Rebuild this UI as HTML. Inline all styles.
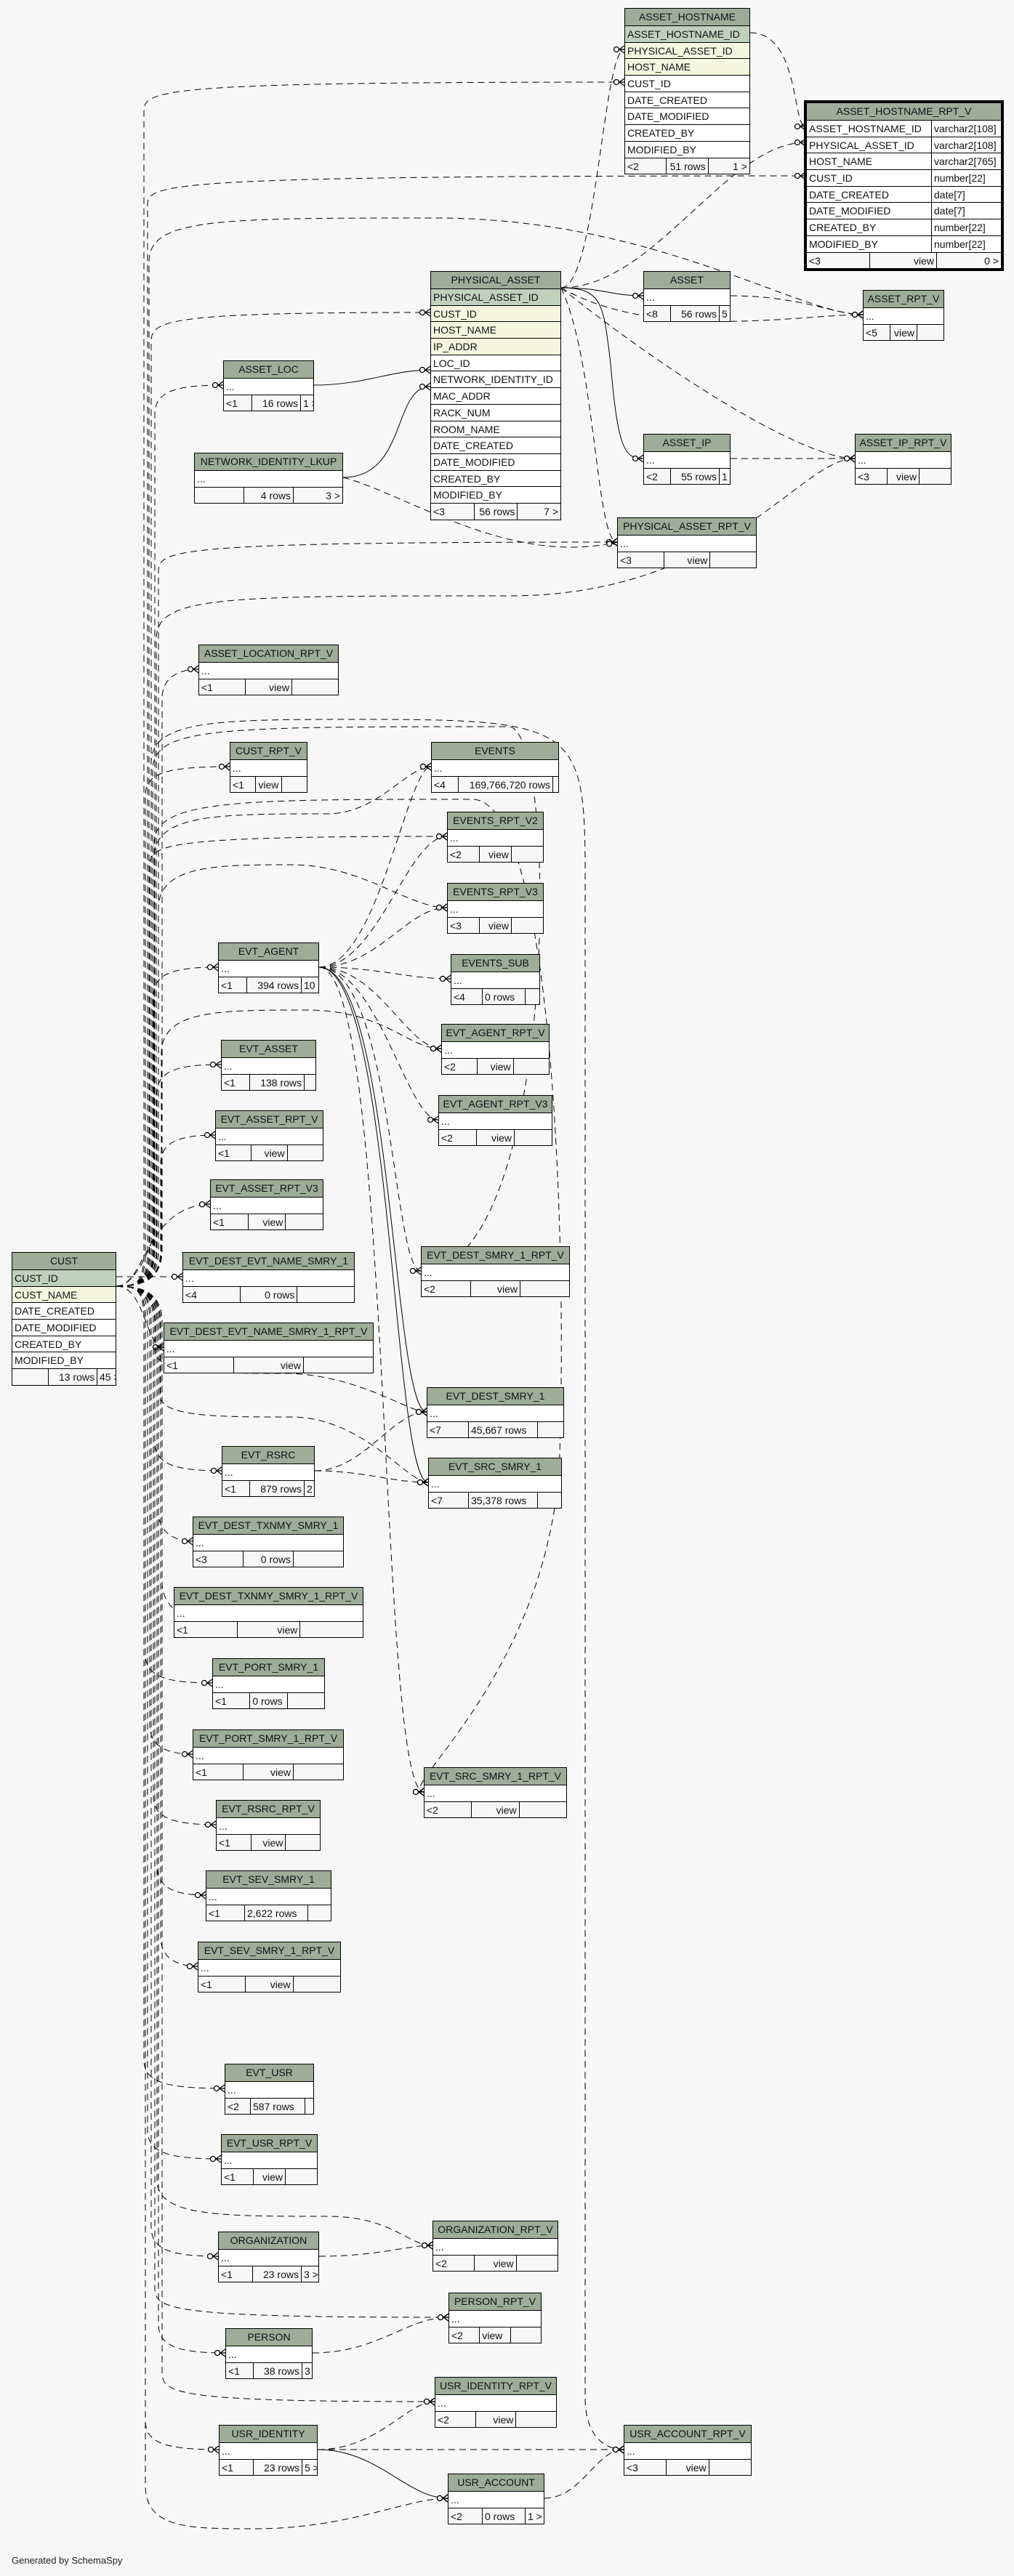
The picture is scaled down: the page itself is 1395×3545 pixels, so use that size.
<!DOCTYPE html>
<html><head><meta charset="utf-8"><style>
html,body{margin:0;padding:0;background:#f7f7f7}
body{width:1395px;height:3545px;position:relative;overflow:hidden;font-family:"Liberation Sans",sans-serif}
svg{position:absolute;left:0;top:0}
.t{position:absolute;border:1px solid #000;background:#fff;font-size:14px;box-sizing:border-box;color:#111}
.t>div{height:22.7px;line-height:22px;border-top:1px solid #000;padding:0 3px;white-space:nowrap;overflow:hidden;box-sizing:border-box}
.t>.h{background:#9eac98;text-align:center;border-top:none;height:23px}
.t>.p{background:#bfd1bb}.t>.y{background:#f4f6e0}
.t>.f{display:flex;padding:0;background:#f7f7f7}
.f span{flex:1;border-left:1px solid #000;padding:0 3px;text-align:right;overflow:hidden}
.f span:first-child{border-left:none;text-align:left}
.t>.c{display:flex;padding:0}
.c span{padding:0 3px;overflow:hidden}
.c span:first-child{width:165px;border-right:1px solid #000}
.k{border:4px solid #000!important}
.gen{position:absolute;left:16px;top:3516px;font-size:13px;color:#222}
</style></head><body>
<svg id="sv" width="1395" height="3545" fill="none" stroke="#000" stroke-width="1">
<defs>
<marker id="m" markerUnits="userSpaceOnUse" orient="auto" refX="0" refY="0" viewBox="-16 -7 17 14" markerWidth="17" markerHeight="14" overflow="visible">
<g stroke="#000" fill="#fff" stroke-dasharray="none" stroke-width="1.3"><circle cx="-11" cy="0" r="3.5"/><path d="M-7 0H0M-7 0L0 -5M-7 0L0 5" fill="none"/></g>
</marker>
</defs>
<g id="fan" stroke-dasharray="9,6" marker-end="url(#m)">
<path d="M160 1757 L251 1757"/>
<path d="M160 1770 C200 1770 200 1854 225 1854"/>
<path d="M160 1770 C200 1770 200 1660 289 1657"/>
<path d="M160 1770 C190 1770 205 1765 205 1720 L205 360 C205 300 300 300 600 300 C900 300 1100 433 1187 433"/>
<path d="M160 1770 C190 1770 215 1765 215 1720 L215 880 C215 820 300 820 700 820 C1000 820 1100 631 1176 631"/>
<path d="M160 1770 C190 1770 212 1765 212 1720 L212 1180 C212 1120 300 1120 450 1120 C520 1120 560 1055 593 1055"/>
<path d="M160 1770 C190 1770 218 1765 218 1720 L218 1250 C218 1190 300 1190 400 1190 C500 1190 560 1249 615 1249"/>
<path d="M160 1770 C190 1770 222 1765 222 1720 L222 1450 C222 1390 300 1390 420 1390 C530 1390 560 1443 607 1443"/>
<path d="M160 1770 C190 1770 210 1765 210 1720 L210 1060 C210 1000 300 1000 700 1000 C770 1000 770 1749 579 1749"/>
<path d="M160 1770 C190 1770 208 1765 208 1720 L208 1050 C208 990 300 990 500 990 C790 990 805 1000 805 1200 L805 3300 C805 3350 830 3371 858 3371"/>
<path d="M160 1770 C190 1770 214 1775 214 1820 L214 1860 C214 1890 300 1890 400 1890 C500 1895 560 1943 587 1943"/>
<path d="M160 1770 C190 1770 220 1775 220 1820 L220 1920 C220 1950 300 1950 400 1950 C500 1950 560 2040 589 2040"/>
<path d="M160 1770 C190 1770 212 1700 212 1700 L212 1160 C212 1100 330 1100 650 1100 C760 1100 780 1700 770 2000 C760 2300 540 2466 583 2466"/>
<path d="M160 1770 C190 1770 216 1775 216 1820 L216 3000 C216 3050 300 3050 450 3050 C540 3050 560 3090 595 3090"/>
<path d="M160 1770 C190 1770 200 1775 200 1820 L200 3420 C200 3480 260 3480 350 3480 C480 3480 560 3438 616 3438"/>
</g>
<g stroke-dasharray="9,6" marker-end="url(#m)">
<path d="M1032 45 C1100 45 1090 174 1108 174"/>
<path d="M772 396 C820 396 830 68 859 68"/>
<path d="M772 396 C900 396 1000 196 1108 196"/>
<path d="M772 396 C900 470 1100 433 1187 433"/>
<path d="M772 396 C900 500 1100 631 1176 631"/>
<path d="M772 396 C820 500 820 746 849 746"/>
<path d="M1005 407 C1100 407 1150 433 1187 433"/>
<path d="M1005 631 L1176 631"/>
<path d="M472 657 C560 680 700 780 849 746"/>
<path d="M439 1331 C520 1331 560 1055 593 1055"/>
<path d="M439 1331 C520 1331 560 1151 615 1151"/>
<path d="M439 1331 C520 1331 560 1249 615 1249"/>
<path d="M439 1331 C520 1331 560 1347 620 1347"/>
<path d="M439 1331 C520 1331 560 1443 607 1443"/>
<path d="M439 1331 C520 1331 560 1541 603 1541"/>
<path d="M439 1331 C540 1331 540 1749 579 1749"/>
<path d="M439 1331 C540 1331 520 2466 583 2466"/>
<path d="M433 2024 C500 2024 540 1943 587 1943"/>
<path d="M433 2024 C500 2024 540 2040 589 2040"/>
<path d="M439 3105 C520 3105 560 3090 595 3090"/>
<path d="M430 3238 C520 3238 560 3189 617 3189"/>
<path d="M437 3371 C520 3371 560 3305 598 3305"/>
<path d="M437 3371 L858 3371"/>
<path d="M749 3438 C800 3438 820 3371 858 3371"/>
</g>
<g marker-end="url(#m)">
<path d="M772 396 C830 396 840 407 885 407"/>
<path d="M772 396 C830 396 830 420 840 500 C850 620 860 631 885 631"/>
<path d="M432 530 C500 530 540 509 592 509"/>
<path d="M472 657 C560 657 540 532 592 532"/>
<path d="M439 1331 C540 1331 540 1943 587 1943"/>
<path d="M439 1331 C540 1331 540 2040 589 2040"/>
<path d="M437 3371 C520 3371 560 3438 616 3438"/>
</g>
</svg>
<script>
(function(){
var g=document.getElementById('fan');
var up=[[113,859],[242,1108],[430,592],[530,307],[746,849],[921,273],[1055,316],[1151,615],[1331,300],[1465,304],[1562,296]];
var dn=[[2024,305],[2121,265],[2218,239],[2316,292],[2414,265],[2511,297],[2608,283],[2706,272],[2874,309],[2971,304],[3105,300],[3189,617],[3238,310],[3305,598],[3371,301]];
var bxs=[198,203,208,213,218,223,200,206,211,216,221];
function add(d){var p=document.createElementNS('http://www.w3.org/2000/svg','path');p.setAttribute('d',d);g.appendChild(p);}
up.forEach(function(a,i){var ty=a[0],x=a[1],bx=bxs[i%bxs.length];
add('M160 1770 C190 1770 '+bx+' 1765 '+bx+' 1720 L'+bx+' '+(ty+40)+' C'+bx+' '+(ty+10)+' '+(bx+25)+' '+ty+' '+x+' '+ty);});
dn.forEach(function(a,i){var ty=a[0],x=a[1],bx=bxs[(i+3)%bxs.length];
add('M160 1770 C190 1770 '+bx+' 1775 '+bx+' 1820 L'+bx+' '+(ty-40)+' C'+bx+' '+(ty-10)+' '+(bx+25)+' '+ty+' '+x+' '+ty);});
})();
</script>

<div class="t" style="left:859px;top:11px;width:173px"><div class="h">ASSET_HOSTNAME</div><div class="p">ASSET_HOSTNAME_ID</div><div class="y">PHYSICAL_ASSET_ID</div><div class="y">HOST_NAME</div><div>CUST_ID</div><div>DATE_CREATED</div><div>DATE_MODIFIED</div><div>CREATED_BY</div><div>MODIFIED_BY</div><div class="f"><span>&lt;2</span><span>51 rows</span><span>1 &gt;</span></div></div>

<div class="t k" style="left:1106px;top:138px;width:275px"><div class="h">ASSET_HOSTNAME_RPT_V</div><div class="c"><span>ASSET_HOSTNAME_ID</span><span>varchar2[108]</span></div><div class="c"><span>PHYSICAL_ASSET_ID</span><span>varchar2[108]</span></div><div class="c"><span>HOST_NAME</span><span>varchar2[765]</span></div><div class="c"><span>CUST_ID</span><span>number[22]</span></div><div class="c"><span>DATE_CREATED</span><span>date[7]</span></div><div class="c"><span>DATE_MODIFIED</span><span>date[7]</span></div><div class="c"><span>CREATED_BY</span><span>number[22]</span></div><div class="c"><span>MODIFIED_BY</span><span>number[22]</span></div><div class="f"><span style="flex:0 0 80px">&lt;3</span><span style="flex:0 0 85px">view</span><span>0 &gt;</span></div></div>

<div class="t" style="left:592px;top:373px;width:180px"><div class="h">PHYSICAL_ASSET</div><div class="p">PHYSICAL_ASSET_ID</div><div class="y">CUST_ID</div><div class="y">HOST_NAME</div><div class="y">IP_ADDR</div><div>LOC_ID</div><div>NETWORK_IDENTITY_ID</div><div>MAC_ADDR</div><div>RACK_NUM</div><div>ROOM_NAME</div><div>DATE_CREATED</div><div>DATE_MODIFIED</div><div>CREATED_BY</div><div>MODIFIED_BY</div><div class="f"><span>&lt;3</span><span>56 rows</span><span>7 &gt;</span></div></div>

<div class="t" style="left:885px;top:373px;width:120px"><div class="h">ASSET</div><div>...</div><div class="f"><span style="flex:0 0 30px">&lt;8</span><span style="flex:0 0 60px">56 rows</span><span>5 &gt;</span></div></div>
<div class="t" style="left:1187px;top:399px;width:112px"><div class="h">ASSET_RPT_V</div><div>...</div><div class="f"><span>&lt;5</span><span>view</span><span></span></div></div>
<div class="t" style="left:307px;top:496px;width:125px"><div class="h">ASSET_LOC</div><div>...</div><div class="f"><span style="flex:0 0 32px">&lt;1</span><span style="flex:0 0 60px">16 rows</span><span>1 &gt;</span></div></div>
<div class="t" style="left:267px;top:623px;width:205px"><div class="h">NETWORK_IDENTITY_LKUP</div><div>...</div><div class="f"><span></span><span>4 rows</span><span>3 &gt;</span></div></div>
<div class="t" style="left:885px;top:597px;width:120px"><div class="h">ASSET_IP</div><div>...</div><div class="f"><span style="flex:0 0 30px">&lt;2</span><span style="flex:0 0 60px">55 rows</span><span>1 &gt;</span></div></div>
<div class="t" style="left:1176px;top:597px;width:133px"><div class="h">ASSET_IP_RPT_V</div><div>...</div><div class="f"><span>&lt;3</span><span>view</span><span></span></div></div>
<div class="t" style="left:849px;top:712px;width:192px"><div class="h">PHYSICAL_ASSET_RPT_V</div><div>...</div><div class="f"><span>&lt;3</span><span>view</span><span></span></div></div>
<div class="t" style="left:273px;top:887px;width:193px"><div class="h">ASSET_LOCATION_RPT_V</div><div>...</div><div class="f"><span>&lt;1</span><span>view</span><span></span></div></div>
<div class="t" style="left:316px;top:1021px;width:107px"><div class="h">CUST_RPT_V</div><div>...</div><div class="f"><span>&lt;1</span><span style="text-align:left">view</span><span></span></div></div>
<div class="t" style="left:593px;top:1021px;width:176px"><div class="h">EVENTS</div><div>...</div><div class="f"><span style="flex:0 0 30px">&lt;4</span><span style="flex:0 0 123px">169,766,720 rows</span><span></span></div></div>
<div class="t" style="left:615px;top:1117px;width:133px"><div class="h">EVENTS_RPT_V2</div><div>...</div><div class="f"><span>&lt;2</span><span>view</span><span></span></div></div>
<div class="t" style="left:615px;top:1215px;width:133px"><div class="h">EVENTS_RPT_V3</div><div>...</div><div class="f"><span>&lt;3</span><span>view</span><span></span></div></div>
<div class="t" style="left:300px;top:1297px;width:139px"><div class="h">EVT_AGENT</div><div>...</div><div class="f"><span style="flex:0 0 32px">&lt;1</span><span style="flex:0 0 68px">394 rows</span><span>10 &gt;</span></div></div>
<div class="t" style="left:620px;top:1313px;width:123px"><div class="h">EVENTS_SUB</div><div>...</div><div class="f"><span style="flex:0 0 36px">&lt;4</span><span style="flex:0 0 52px;text-align:left">0 rows</span><span></span></div></div>
<div class="t" style="left:607px;top:1409px;width:149px"><div class="h">EVT_AGENT_RPT_V</div><div>...</div><div class="f"><span>&lt;2</span><span>view</span><span></span></div></div>
<div class="t" style="left:304px;top:1431px;width:131px"><div class="h">EVT_ASSET</div><div>...</div><div class="f"><span style="flex:0 0 32px">&lt;1</span><span style="flex:0 0 68px">138 rows</span><span></span></div></div>
<div class="t" style="left:603px;top:1507px;width:157px"><div class="h">EVT_AGENT_RPT_V3</div><div>...</div><div class="f"><span>&lt;2</span><span>view</span><span></span></div></div>
<div class="t" style="left:296px;top:1528px;width:149px"><div class="h">EVT_ASSET_RPT_V</div><div>...</div><div class="f"><span>&lt;1</span><span>view</span><span></span></div></div>
<div class="t" style="left:289px;top:1623px;width:156px"><div class="h">EVT_ASSET_RPT_V3</div><div>...</div><div class="f"><span>&lt;1</span><span>view</span><span></span></div></div>
<div class="t" style="left:579px;top:1715px;width:205px"><div class="h">EVT_DEST_SMRY_1_RPT_V</div><div>...</div><div class="f"><span>&lt;2</span><span>view</span><span></span></div></div>
<div class="t" style="left:251px;top:1723px;width:237px"><div class="h">EVT_DEST_EVT_NAME_SMRY_1</div><div>...</div><div class="f"><span>&lt;4</span><span>0 rows</span><span></span></div></div>
<div class="t" style="left:16px;top:1723px;width:144px"><div class="h">CUST</div><div class="p">CUST_ID</div><div class="y">CUST_NAME</div><div>DATE_CREATED</div><div>DATE_MODIFIED</div><div>CREATED_BY</div><div>MODIFIED_BY</div><div class="f"><span style="flex:0 0 43px"></span><span style="flex:0 0 60px">13 rows</span><span>45 &gt;</span></div></div>
<div class="t" style="left:225px;top:1820px;width:289px"><div class="h">EVT_DEST_EVT_NAME_SMRY_1_RPT_V</div><div>...</div><div class="f"><span>&lt;1</span><span>view</span><span></span></div></div>
<div class="t" style="left:587px;top:1909px;width:189px"><div class="h">EVT_DEST_SMRY_1</div><div>...</div><div class="f"><span style="flex:0 0 50px">&lt;7</span><span style="flex:0 0 88px;text-align:left">45,667 rows</span><span></span></div></div>
<div class="t" style="left:305px;top:1990px;width:128px"><div class="h">EVT_RSRC</div><div>...</div><div class="f"><span style="flex:0 0 31px">&lt;1</span><span style="flex:0 0 68px">879 rows</span><span>2 &gt;</span></div></div>
<div class="t" style="left:589px;top:2006px;width:184px"><div class="h">EVT_SRC_SMRY_1</div><div>...</div><div class="f"><span style="flex:0 0 48px">&lt;7</span><span style="flex:0 0 88px;text-align:left">35,378 rows</span><span></span></div></div>
<div class="t" style="left:265px;top:2087px;width:208px"><div class="h">EVT_DEST_TXNMY_SMRY_1</div><div>...</div><div class="f"><span>&lt;3</span><span>0 rows</span><span></span></div></div>
<div class="t" style="left:239px;top:2184px;width:261px"><div class="h">EVT_DEST_TXNMY_SMRY_1_RPT_V</div><div>...</div><div class="f"><span>&lt;1</span><span>view</span><span></span></div></div>
<div class="t" style="left:292px;top:2282px;width:155px"><div class="h">EVT_PORT_SMRY_1</div><div>...</div><div class="f"><span>&lt;1</span><span style="text-align:left">0 rows</span><span></span></div></div>
<div class="t" style="left:265px;top:2380px;width:208px"><div class="h">EVT_PORT_SMRY_1_RPT_V</div><div>...</div><div class="f"><span>&lt;1</span><span>view</span><span></span></div></div>
<div class="t" style="left:583px;top:2432px;width:197px"><div class="h">EVT_SRC_SMRY_1_RPT_V</div><div>...</div><div class="f"><span>&lt;2</span><span>view</span><span></span></div></div>
<div class="t" style="left:297px;top:2477px;width:144px"><div class="h">EVT_RSRC_RPT_V</div><div>...</div><div class="f"><span>&lt;1</span><span>view</span><span></span></div></div>
<div class="t" style="left:283px;top:2574px;width:173px"><div class="h">EVT_SEV_SMRY_1</div><div>...</div><div class="f"><span style="flex:0 0 46px">&lt;1</span><span style="flex:0 0 80px;text-align:left">2,622 rows</span><span></span></div></div>
<div class="t" style="left:272px;top:2672px;width:197px"><div class="h">EVT_SEV_SMRY_1_RPT_V</div><div>...</div><div class="f"><span>&lt;1</span><span>view</span><span></span></div></div>
<div class="t" style="left:309px;top:2840px;width:123px"><div class="h">EVT_USR</div><div>...</div><div class="f"><span style="flex:0 0 28px">&lt;2</span><span style="flex:0 0 68px;text-align:left">587 rows</span><span></span></div></div>
<div class="t" style="left:304px;top:2937px;width:133px"><div class="h">EVT_USR_RPT_V</div><div>...</div><div class="f"><span>&lt;1</span><span>view</span><span></span></div></div>
<div class="t" style="left:595px;top:3056px;width:173px"><div class="h">ORGANIZATION_RPT_V</div><div>...</div><div class="f"><span>&lt;2</span><span>view</span><span></span></div></div>
<div class="t" style="left:300px;top:3071px;width:139px"><div class="h">ORGANIZATION</div><div>...</div><div class="f"><span style="flex:0 0 40px">&lt;1</span><span style="flex:0 0 60px">23 rows</span><span>3 &gt;</span></div></div>
<div class="t" style="left:617px;top:3155px;width:128px"><div class="h">PERSON_RPT_V</div><div>...</div><div class="f"><span>&lt;2</span><span style="text-align:left">view</span><span></span></div></div>
<div class="t" style="left:310px;top:3204px;width:120px"><div class="h">PERSON</div><div>...</div><div class="f"><span style="flex:0 0 31px">&lt;1</span><span style="flex:0 0 60px">38 rows</span><span style="text-align:left">3 &gt;</span></div></div>
<div class="t" style="left:598px;top:3271px;width:168px"><div class="h">USR_IDENTITY_RPT_V</div><div>...</div><div class="f"><span>&lt;2</span><span>view</span><span></span></div></div>
<div class="t" style="left:301px;top:3337px;width:136px"><div class="h">USR_IDENTITY</div><div>...</div><div class="f"><span style="flex:0 0 40px">&lt;1</span><span style="flex:0 0 60px">23 rows</span><span>5 &gt;</span></div></div>
<div class="t" style="left:858px;top:3337px;width:176px"><div class="h">USR_ACCOUNT_RPT_V</div><div>...</div><div class="f"><span>&lt;3</span><span>view</span><span></span></div></div>
<div class="t" style="left:616px;top:3404px;width:133px"><div class="h">USR_ACCOUNT</div><div>...</div><div class="f"><span style="flex:0 0 40px">&lt;2</span><span style="flex:0 0 52px;text-align:left">0 rows</span><span>1 &gt;</span></div></div>

<div class="gen">Generated by SchemaSpy</div>
</body></html>
